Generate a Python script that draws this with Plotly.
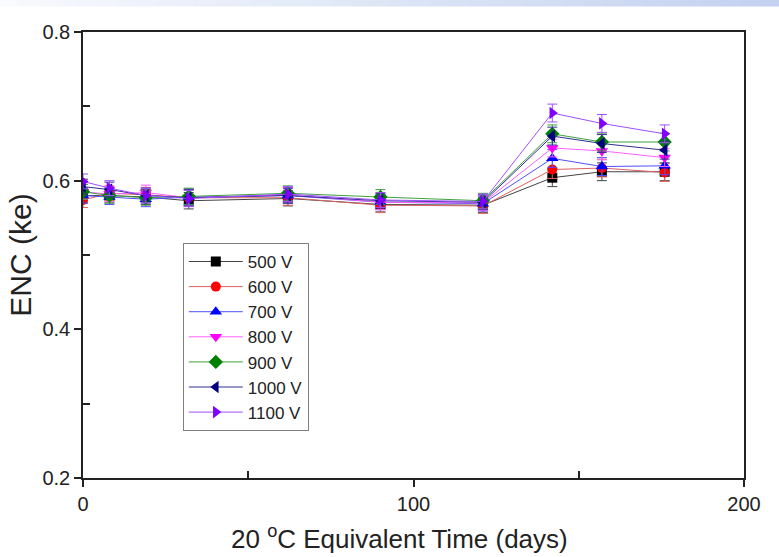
import plotly.graph_objects as go

days = [0, 8, 19, 32, 62, 90, 121, 142, 157, 176]

series_names = ["500 V", "600 V", "700 V", "800 V", "900 V", "1000 V", "1100 V"]
enc_500 = [0.580, 0.580, 0.578, 0.573, 0.576, 0.568, 0.567, 0.604, 0.612, 0.612]
enc_600 = [0.574, 0.583, 0.581, 0.577, 0.577, 0.567, 0.566, 0.615, 0.617, 0.611]
enc_700 = [0.580, 0.578, 0.575, 0.578, 0.580, 0.571, 0.569, 0.630, 0.619, 0.620]
enc_800 = [0.585, 0.582, 0.584, 0.577, 0.581, 0.571, 0.570, 0.644, 0.640, 0.631]
enc_900 = [0.585, 0.580, 0.577, 0.579, 0.583, 0.578, 0.573, 0.663, 0.652, 0.652]
enc_1000 = [0.592, 0.588, 0.580, 0.577, 0.580, 0.573, 0.571, 0.660, 0.650, 0.641]
enc_1100 = [0.599, 0.590, 0.580, 0.576, 0.582, 0.574, 0.572, 0.691, 0.677, 0.663]
enc_err = [0.010, 0.010, 0.010, 0.011, 0.010, 0.010, 0.010, 0.012, 0.012, 0.012]

series_values = [enc_500, enc_600, enc_700, enc_800, enc_900, enc_1000, enc_1100]
colors = ["#000000", "#ff0000", "#0000ff", "#ff00ff", "#008000", "#000080", "#8000ff"]
line_colors = ["#444444", "#e06060", "#5050ff", "#ff60ff", "#40a040", "#303090", "#a050ff"]
symbols = ["square", "circle", "triangle-up", "triangle-down", "diamond", "triangle-left", "triangle-right"]

fig = go.Figure()
for name, vals, c, lc, s in zip(series_names, series_values, colors, line_colors, symbols):
    fig.add_trace(go.Scatter(
        x=days, y=vals, name=name, mode="lines+markers",
        line=dict(color=lc, width=1),
        marker=dict(symbol=s, color=c, size=11 if s not in ("circle", "square") else 10),
        error_y=dict(type="data", array=enc_err, visible=True, color=lc, thickness=1, width=5),
    ))

# top gradient band
n = 40
x0p, x1p = -83 / 661, 1 + 35 / 661
for i in range(n):
    t = i / (n - 1)
    r = int(248 + (195 - 248) * t)
    g = int(250 + (210 - 250) * t)
    b = int(253 + (240 - 253) * t)
    fig.add_shape(type="rect", xref="paper", yref="paper",
                  x0=x0p + (x1p - x0p) * i / n, x1=x0p + (x1p - x0p) * (i + 1) / n + 0.001,
                  y0=1 + 25.5 / 446, y1=1 + 33 / 446,
                  fillcolor=f"rgb({r},{g},{b})", line=dict(width=0), layer="below")

FONT = "Arial, Liberation Sans, sans-serif"
tickfont = dict(family=FONT, size=20, color="#222222")

x_title = "20 <sup>o</sup>C Equivalent Time (days)"
y_title = "ENC (ke)"

fig.add_annotation(text=x_title, xref="paper", yref="paper",
                   x=(399 - 83) / 661, y=-(537 - 478) / 446,
                   xanchor="center", yanchor="middle", showarrow=False,
                   font=dict(family=FONT, size=26, color="#222222"))

fig.update_layout(
    width=779, height=557,
    margin=dict(l=83, r=35, t=32, b=79),
    paper_bgcolor="white", plot_bgcolor="white",
    showlegend=True,
    legend=dict(x=0.151, y=0.527, xanchor="left", yanchor="top",
                bgcolor="white", bordercolor="#808080", borderwidth=1,
                font=dict(family=FONT, size=17, color="#222222"),
                tracegroupgap=0, itemwidth=54),
    xaxis=dict(range=[0, 200], tickvals=[0, 100, 200], ticks="outside", ticklen=7,
               tickwidth=1.5, tickcolor="#222222",
               showline=True, linecolor="#222222", linewidth=1.5, mirror=True,
               showgrid=False, zeroline=False, tickfont=tickfont,
               minor=dict(tickvals=[50, 150], ticks="inside", ticklen=7, tickwidth=1.5, tickcolor="#222222")),
    yaxis=dict(range=[0.2, 0.8], tickvals=[0.2, 0.4, 0.6, 0.8], ticks="outside", ticklen=7,
               tickwidth=1.5, tickcolor="#222222",
               showline=True, linecolor="#222222", linewidth=1.5, mirror=True,
               showgrid=False, zeroline=False, tickfont=tickfont,
               minor=dict(tickvals=[0.3, 0.5, 0.7], ticks="inside", ticklen=7, tickwidth=1.5, tickcolor="#222222"),
               title=dict(text=y_title,
                          font=dict(family=FONT, size=30, color="#222222"),
                          standoff=2)),
    xaxis2=dict(range=[0, 200], overlaying="x", side="top", anchor="y",
                tickvals=[50, 100, 150], ticks="inside", ticklen=7, tickwidth=1.5,
                tickcolor="#222222", showticklabels=False, showgrid=False, zeroline=False),
    yaxis2=dict(range=[0.2, 0.8], overlaying="y", side="right", anchor="x",
                tickvals=[0.3, 0.4, 0.5, 0.6, 0.7], ticks="inside", ticklen=7, tickwidth=1.5,
                tickcolor="#222222", showticklabels=False, showgrid=False, zeroline=False),
)

fig.write_html("out.html")
